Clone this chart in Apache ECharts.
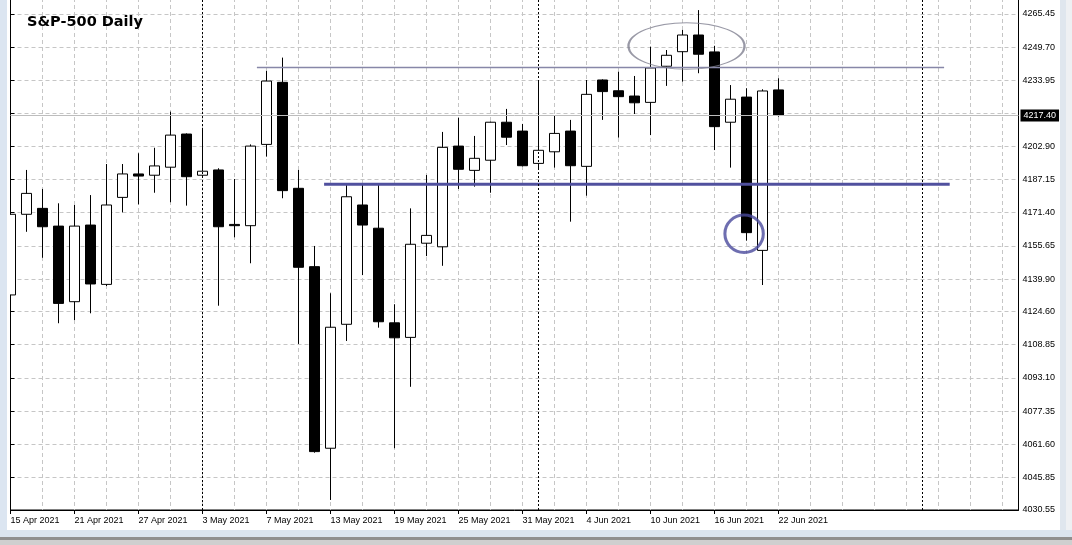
<!DOCTYPE html>
<html>
<head>
<meta charset="utf-8">
<script src="https://cdn.jsdelivr.net/npm/echarts@6/dist/echarts.min.js"></script>
<style>
html,body{margin:0;padding:0;background:#fff;}
#c{width:1072px;height:545px;}
</style>
</head>
<body>
<div id="c"></div>
<script>
// ---- data ----
const dates = ['15 Apr 2021','16 Apr 2021','19 Apr 2021','20 Apr 2021','21 Apr 2021','22 Apr 2021','23 Apr 2021','26 Apr 2021','27 Apr 2021','28 Apr 2021','29 Apr 2021','30 Apr 2021',
  '3 May 2021','4 May 2021','5 May 2021','6 May 2021','7 May 2021','10 May 2021','11 May 2021','12 May 2021','13 May 2021','14 May 2021','17 May 2021','18 May 2021','19 May 2021','20 May 2021','21 May 2021','24 May 2021','25 May 2021','26 May 2021','27 May 2021','28 May 2021','31 May 2021',
  '1 Jun 2021','2 Jun 2021','3 Jun 2021','4 Jun 2021','7 Jun 2021','8 Jun 2021','9 Jun 2021','10 Jun 2021','11 Jun 2021','14 Jun 2021','15 Jun 2021','16 Jun 2021','17 Jun 2021','18 Jun 2021','21 Jun 2021','22 Jun 2021'];
const opens  = [4132.4,4170.6,4173.4,4165.0,4129.2,4165.5,4137.4,4178.6,4189.7,4189.1,4192.9,4208.6,4189.1,4191.6,4165.8,4165.2,4203.7,4233.1,4182.9,4145.8,4059.8,4118.5,4175.0,4164.0,4119.2,4112.3,4156.9,4155.2,4202.9,4191.4,4196.2,4214.2,4210.0,4194.7,4200.2,4210.0,4193.3,4234.2,4229.1,4226.6,4223.6,4240.7,4247.6,4255.5,4247.5,4214.2,4226.1,4153.5,4229.5];
const closes = [4170.6,4180.5,4164.7,4128.4,4165.0,4137.6,4175.0,4189.7,4188.7,4193.5,4208.1,4188.4,4191.0,4164.7,4165.2,4202.9,4233.7,4181.8,4145.5,4058.2,4117.1,4178.9,4165.5,4119.7,4112.1,4156.4,4160.6,4202.3,4191.9,4197.1,4214.2,4207.1,4193.6,4200.9,4208.9,4193.6,4227.4,4228.7,4226.3,4223.4,4239.9,4245.9,4255.5,4246.4,4212.1,4225.1,4161.9,4229.0,4217.4];
const lows   = [4128.0,4162.3,4150.0,4119.0,4120.5,4123.7,4136.6,4171.5,4175.3,4180.8,4176.3,4174.7,4187.8,4127.3,4159.7,4147.4,4197.9,4178.2,4109.2,4057.7,4035.3,4110.6,4141.8,4116.9,4059.8,4088.9,4150.8,4146.2,4182.6,4183.7,4180.8,4203.4,4193.3,4192.5,4192.7,4167.1,4179.4,4215.3,4206.9,4218.1,4208.1,4231.4,4233.4,4237.4,4201.0,4192.7,4158.1,4137.1,4216.8];
const highs  = [4175.0,4191.6,4182.6,4175.8,4175.0,4179.7,4194.4,4194.4,4199.5,4202.1,4219.2,4208.9,4211.3,4192.4,4187.3,4203.7,4238.5,4244.8,4191.6,4155.6,4133.2,4184.5,4184.5,4184.5,4128.0,4173.4,4189.2,4209.6,4216.3,4207.7,4214.5,4220.5,4213.4,4234.2,4217.3,4215.3,4234.2,4234.5,4238.1,4236.1,4250.0,4248.4,4257.9,4267.3,4250.4,4231.8,4230.3,4229.8,4235.0];
const futureSlots = 15;                    // empty bars to the right of the last candle
const yTicks = [4030.55,4045.85,4061.60,4077.35,4093.10,4108.85,4124.60,4139.90,4155.65,4171.40,4187.15,4202.90,4218.40,4233.95,4249.70,4265.45];
const yLabels = [4030.55,4045.85,4061.60,4077.35,4093.10,4108.85,4124.60,4139.90,4155.65,4171.40,4187.15,4202.90,4233.95,4249.70,4265.45];
const bidPrice = 4217.40;
const separators = [12, 33, 57];           // period separator bar indices
const resistance = {from: 15.4, to: 58.35, price: 4240.1};
const support    = {from: 19.6, to: 58.7,  price: 4184.8};
const topEllipse = {x: 42.25, price: 4250.3, spanBars: 7.25, spanPrice: 22.1};
const lowCircle  = {x: 45.85, price: 4161.4, spanBars: 2.4, spanPrice: 17.7};
const yMin = 4030.55, yMax = 4273.03;
const titleText = 'S&P-500 Daily';

// ---- layout ----
const W = 1072, H = 545;
const G = {left: 10.5, right: 53.5, top: -2, bottom: 35};
const cats = dates.concat(Array(futureSlots).fill(''));
const lastIdx = dates.length - 1;
const nSlots = cats.length;
const pxPerBar = (W - G.left - G.right) / (nSlots - 1);
const pxPerPrice = (H - G.top - G.bottom) / (yMax - yMin);
const candles = dates.map((d, i) => [opens[i], closes[i], lows[i], highs[i]]);
const FONT = "'Liberation Sans', Arial, sans-serif";
const gridLine = {color: '#c6c6c6', type: [4, 3], width: 1};

const chart = echarts.init(document.getElementById('c'), null, {renderer: 'canvas'});
chart.setOption({
  animation: false,
  backgroundColor: '#ffffff',
  title: {
    text: titleText, left: 27, top: 15, padding: 0,
    textStyle: {fontFamily: "'DejaVu Sans', sans-serif", fontWeight: 'bold', fontSize: 14.5, color: '#000'}
  },
  graphic: [
    // window frame pieces; the white strip hides the part of the first candle left of the chart edge
    {type: 'rect', silent: true, z: 100, shape: {x: 0, y: 0, width: 10, height: 530}, style: {fill: '#ffffff'}},
    {type: 'rect', silent: true, z: 101, shape: {x: 0, y: 0, width: 7, height: 531}, style: {fill: '#dbe5f1'}},
    {type: 'rect', silent: true, z: -10, shape: {x: 1060, y: 0, width: 6, height: 531}, style: {fill: '#dfe6ee'}},
    {type: 'rect', silent: true, z: -10, shape: {x: 1066, y: 0, width: 6, height: 531}, style: {fill: '#eef0f3'}},
    {type: 'rect', silent: true, z: 101, shape: {x: 0, y: 530, width: 1072, height: 7}, style: {fill: '#dae4ef'}},
    {type: 'rect', silent: true, z: 101, shape: {x: 0, y: 537, width: 1072, height: 3}, style: {fill: '#8f8f8f'}},
    {type: 'rect', silent: true, z: 101, shape: {x: 0, y: 540, width: 1072, height: 5}, style: {fill: '#cfcfcf'}}
  ],
  grid: Object.assign({show: true, borderColor: '#000', borderWidth: 1, backgroundColor: 'transparent', containLabel: false, outerBoundsMode: 'none'}, G),
  xAxis: [{
    type: 'category', data: cats, boundaryGap: false,
    axisLine: {show: true, lineStyle: {color: '#000', width: 1}},
    axisTick: {show: true, interval: (i) => i % 4 === 0 && i <= lastIdx, length: 4, lineStyle: {color: '#000'}},
    axisLabel: {show: true, interval: (i) => i % 4 === 0 && i <= lastIdx, align: 'left', margin: 6,
      color: '#000', fontSize: 9, fontFamily: FONT, hideOverlap: false},
    splitLine: {show: true, interval: (i) => i % 2 === 0, lineStyle: gridLine}
  }, {
    type: 'value', min: 0, max: nSlots - 1, show: false
  }],
  yAxis: {
    type: 'value', position: 'right', min: yMin, max: yMax,
    axisLine: {show: true, lineStyle: {color: '#000', width: 1}},
    axisTick: {show: true, customValues: yTicks, length: 4, lineStyle: {color: '#000'}},
    axisLabel: {show: true, customValues: yLabels, formatter: (v) => Number(v).toFixed(2), margin: 4,
      color: '#000', fontSize: 9, fontFamily: FONT, hideOverlap: false, showMinLabel: true, showMaxLabel: true},
    splitLine: {show: true, lineStyle: gridLine}
  },
  series: [
    {
      type: 'line', name: 'guides', xAxisIndex: 0, yAxisIndex: 0, data: [], z: 1, silent: true,
      markLine: {
        silent: true, symbol: ['none', 'none'], animation: false, label: {show: false},
        data: separators.map(i => ({xAxis: i, lineStyle: {color: '#000', type: [2, 2], width: 1}})).concat([
          {yAxis: bidPrice, lineStyle: {color: '#bdbdbd', type: 'solid', width: 1},
           label: {show: true, position: 'end', distance: 2, formatter: bidPrice.toFixed(2), color: '#fff',
             backgroundColor: '#000', padding: [2, 3, 1, 3], fontSize: 9, fontFamily: FONT}}
        ])
      }
    },
    {
      type: 'candlestick', name: 'S&P-500', xAxisIndex: 0, yAxisIndex: 0, data: candles, z: 2,
      barWidth: 10, clip: true, silent: true,
      itemStyle: {color: '#ffffff', color0: '#000000', borderColor: '#000000', borderColor0: '#000000', borderWidth: 1}
    },
    {
      type: 'line', name: 'resistance', xAxisIndex: 1, yAxisIndex: 0, z: 3, silent: true, symbol: 'none',
      data: [[resistance.from, resistance.price], [resistance.to, resistance.price]],
      lineStyle: {color: '#8787a8', width: 1.6}
    },
    {
      type: 'line', name: 'support', xAxisIndex: 1, yAxisIndex: 0, z: 3, silent: true, symbol: 'none',
      data: [[support.from, support.price], [support.to, support.price]],
      lineStyle: {color: '#50509e', width: 3}
    },
    {
      type: 'scatter', name: 'top', xAxisIndex: 1, yAxisIndex: 0, z: 4, silent: true, symbol: 'circle',
      symbolSize: [topEllipse.spanBars * pxPerBar, topEllipse.spanPrice * pxPerPrice],
      data: [[topEllipse.x, topEllipse.price]],
      itemStyle: {color: 'rgba(0,0,0,0)', borderColor: '#808090', borderWidth: 1.5}
    },
    {
      type: 'scatter', name: 'low', xAxisIndex: 1, yAxisIndex: 0, z: 4, silent: true, symbol: 'circle',
      symbolSize: [lowCircle.spanBars * pxPerBar, lowCircle.spanPrice * pxPerPrice],
      data: [[lowCircle.x, lowCircle.price]],
      itemStyle: {color: 'rgba(0,0,0,0)', borderColor: '#4a4a9c', borderWidth: 3}
    }
  ]
});
</script>
</body>
</html>
